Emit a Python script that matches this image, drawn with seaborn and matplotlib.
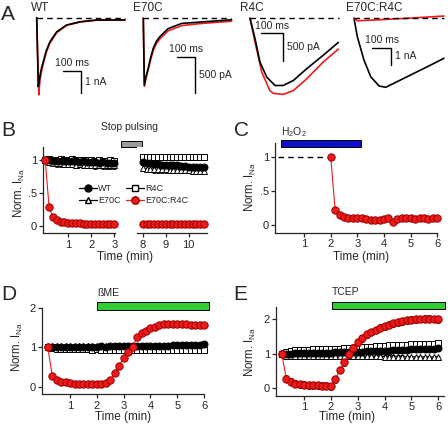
import numpy as np
import matplotlib.pyplot as plt
import seaborn as sns
from matplotlib.patches import Rectangle
from matplotlib.lines import Line2D

'''
    DATA
'''
# A - current traces (time in ms, current in nA)
wt_t_black = [0, 9, 15, 20, 28, 38, 55, 76, 115, 172, 249, 345, 507]
wt_black = [0, -3.04, -2.75, -2.5, -2.2, -1.94, -1.45, -1.06, -0.62, -0.32, -0.18, -0.10, -0.10]
wt_t_red = [0, 12, 15, 20, 28, 38, 55, 76, 115, 172, 249, 345, 507]
wt_red = [0, -3.40, -3.05, -2.7, -2.35, -2.02, -1.52, -1.12, -0.66, -0.34, -0.19, -0.11, -0.10]

e70_t = [0, 6, 15, 28, 40, 56, 75, 94, 141, 217, 330, 499]
e70_black = [0, -0.91, -0.80, -0.68, -0.55, -0.41, -0.31, -0.25, -0.14, -0.07, -0.05, -0.02]
e70_red = [0, -0.93, -0.82, -0.70, -0.58, -0.44, -0.34, -0.28, -0.17, -0.10, -0.07, -0.04]

r4_t_black = [0, 22, 44, 74, 111, 147, 192, 251, 324, 391]
r4_black = [0, -0.36, -0.78, -1.05, -1.20, -1.20, -1.11, -0.90, -0.66, -0.43]
r4_t_red = [0, 22, 52, 88, 103, 147, 192, 251, 324, 391]
r4_red = [0, -0.42, -0.96, -1.29, -1.34, -1.36, -1.29, -1.08, -0.78, -0.55]

dbl_t_black = [0, 18, 54, 91, 136, 172, 235, 326, 417, 489]
dbl_black = [0, -1.06, -2.41, -3.38, -3.91, -3.99, -3.66, -3.18, -2.70, -2.31]
dbl_t_red = [0, 18, 109, 288, 489]
dbl_red = [0, -0.14, -0.10, 0.0, 0.13]

# B - stop pulsing (10 s sweep interval)
b_t_left = np.arange(0, 19) / 6
b_t_right = 8 + np.arange(0, 17) / 6
b_wt_left = [1.0, 1.0, 0.99, 0.99, 0.98, 0.99, 0.98, 0.98, 0.98, 0.97, 0.98, 0.97, 0.97, 0.97, 0.96, 0.97, 0.96, 0.96, 0.96]
b_r4_left = [1.0, 1.01, 1.0, 1.0, 1.01, 1.0, 1.0, 1.01, 1.0, 1.0, 0.99, 1.0, 1.0, 0.99, 1.0, 0.99, 0.99, 1.0, 0.99]
b_e70_left = [1.0, 0.97, 0.96, 0.95, 0.95, 0.94, 0.94, 0.94, 0.93, 0.94, 0.93, 0.93, 0.93, 0.92, 0.93, 0.92, 0.92, 0.92, 0.92]
b_dbl_left = [1.0, 0.29, 0.14, 0.09, 0.07, 0.06, 0.05, 0.05, 0.05, 0.05, 0.04, 0.04, 0.04, 0.04, 0.04, 0.04, 0.04, 0.04, 0.04]
b_wt_right = [0.97, 0.96, 0.95, 0.94, 0.94, 0.93, 0.93, 0.92, 0.92, 0.92, 0.91, 0.91, 0.90, 0.90, 0.90, 0.89, 0.89]
b_r4_right = [1.05, 1.04, 1.05, 1.04, 1.04, 1.05, 1.04, 1.04, 1.05, 1.04, 1.05, 1.05, 1.04, 1.05, 1.05, 1.05, 1.05]
b_e70_right = [0.88, 0.87, 0.87, 0.86, 0.86, 0.86, 0.86, 0.85, 0.85, 0.85, 0.85, 0.85, 0.85, 0.84, 0.84, 0.84, 0.84]
b_dbl_right = [0.04] * 17
b_err_e70 = 0.05
b_err_r4 = 0.04

# C - H2O2
c_t = 2 + np.arange(0, 25) / 6
c_dbl = [1.0, 0.22, 0.15, 0.12, 0.10, 0.10, 0.10, 0.10, 0.09, 0.08, 0.08, 0.07, 0.09,
         0.10, 0.05, 0.09, 0.10, 0.10, 0.10, 0.09, 0.10, 0.11, 0.09, 0.10, 0.11]

# D / E - reducing agents
de_t = np.arange(1, 37) / 6
d_wt = [1.0, 1.0, 1.0, 1.0, 1.0, 1.0, 1.01, 1.0, 1.01, 1.01, 1.01, 1.01, 1.02, 1.01, 1.02, 1.02, 1.02, 1.02,
        1.03, 1.02, 1.03, 1.03, 1.03, 1.03, 1.04, 1.04, 1.04, 1.04, 1.05, 1.05, 1.05, 1.05, 1.06, 1.06, 1.06, 1.07]
d_r4 = [1.0, 0.97, 0.96, 0.96, 0.95, 0.95, 0.95, 0.95, 0.95, 0.95, 0.94, 0.95, 0.94, 0.94, 0.94, 0.94, 0.94, 0.94,
        0.94, 0.93, 0.94, 0.93, 0.93, 0.93, 0.93, 0.93, 0.93, 0.93, 0.92, 0.93, 0.92, 0.92, 0.92, 0.92, 0.92, 0.92]
d_e70 = [1.0, 1.02, 1.02, 1.03, 1.02, 1.03, 1.02, 1.03, 1.03, 1.02, 1.03, 1.03, 1.02, 1.03, 1.03, 1.02, 1.03, 1.02,
         1.03, 1.03, 1.02, 1.03, 1.02, 1.02, 1.03, 1.02, 1.02, 1.02, 1.01, 1.02, 1.01, 1.01, 1.01, 1.01, 1.0, 1.0]
d_dbl = [1.0, 0.28, 0.18, 0.13, 0.11, 0.09, 0.08, 0.08, 0.07, 0.07, 0.07, 0.06, 0.07, 0.10, 0.18, 0.34, 0.53, 0.74,
         0.87, 1.0, 1.25, 1.35, 1.42, 1.48, 1.52, 1.56, 1.58, 1.59, 1.59, 1.59, 1.58, 1.58, 1.57, 1.56, 1.55, 1.55]
e_wt = [1.0, 1.0, 1.0, 1.01, 1.01, 1.01, 1.02, 1.02, 1.02, 1.03, 1.03, 1.03, 1.04, 1.04, 1.04, 1.05, 1.05, 1.06,
        1.06, 1.07, 1.07, 1.08, 1.08, 1.09, 1.09, 1.10, 1.10, 1.11, 1.11, 1.12, 1.12, 1.13, 1.13, 1.14, 1.14, 1.15]
e_r4 = [1.0, 1.05, 1.08, 1.1, 1.1, 1.11, 1.11, 1.12, 1.12, 1.12, 1.13, 1.13, 1.14, 1.14, 1.15, 1.15, 1.16, 1.17,
        1.18, 1.19, 1.2, 1.21, 1.22, 1.23, 1.24, 1.24, 1.25, 1.26, 1.26, 1.27, 1.27, 1.28, 1.28, 1.29, 1.29, 1.3]
e_e70 = [1.0, 0.93, 0.93, 0.94, 0.94, 0.94, 0.94, 0.94, 0.94, 0.94, 0.94, 0.94, 0.93, 0.93, 0.93, 0.93, 0.93, 0.93,
         0.92, 0.92, 0.92, 0.92, 0.92, 0.91, 0.91, 0.91, 0.91, 0.91, 0.9, 0.9, 0.9, 0.9, 0.9, 0.89, 0.89, 0.89]
e_dbl = [1.0, 0.27, 0.18, 0.12, 0.10, 0.09, 0.08, 0.07, 0.07, 0.06, 0.06, 0.05, 0.25, 0.52, 0.75, 0.98, 1.17, 1.33,
         1.45, 1.56, 1.63, 1.69, 1.76, 1.80, 1.84, 1.88, 1.92, 1.95, 1.97, 1.99, 2.0, 2.01, 2.02, 2.02, 2.01, 2.0]
e_err_e70 = 0.04
e_err_r4 = 0.06
e_err_dbl = 0.1

'''
    STYLE
'''
sns.set_theme(style='ticks')
plt.rcParams['font.family'] = ['Liberation Sans', 'DejaVu Sans']
plt.rcParams['mathtext.default'] = 'regular'
plt.rcParams['axes.linewidth'] = 0.9
plt.rcParams['xtick.major.width'] = 0.9
plt.rcParams['ytick.major.width'] = 0.9
plt.rcParams['xtick.major.size'] = 3
plt.rcParams['ytick.major.size'] = 3
plt.rcParams['xtick.major.pad'] = 1.5
plt.rcParams['ytick.major.pad'] = 1.2
plt.rcParams['xtick.labelsize'] = 8
plt.rcParams['ytick.labelsize'] = 8

RED = '#ee1a1a'
RED_EDGE = '#9a0000'
W, H = 448, 430

fig = plt.figure(figsize=(W / 100, H / 100), dpi=100)


def px_axes(x0, y0, x1, y1):
    return fig.add_axes([x0 / W, 1 - y1 / H, (x1 - x0) / W, (y1 - y0) / H])


def ftext(x, y, s, **kw):
    fig.text(x / W, 1 - y / H, s, **kw)


'''
    PANEL A
'''
def trace_panel(rect, ox, oy, px_ms, px_na, traces, t_end, bar_t, bar_i, bar_na, unit):
    x0, y0, x1, y1 = rect
    ax = px_axes(*rect)
    ax.set_xlim((x0 - ox) / px_ms, (x1 - ox) / px_ms)
    ax.set_ylim((oy - y1) / px_na, (oy - y0) / px_na)
    ax.axis('off')
    for t, i, col in traces:
        sns.lineplot(x=t, y=i, ax=ax, color=col, lw=1.2, sort=False, estimator=None)
    ax.plot([0, t_end], [0, 0], color='black', lw=1, dashes=(4, 3))
    ax.plot([bar_t, bar_t + 100, bar_t + 100], [bar_i, bar_i, bar_i - bar_na], color='black', lw=1)
    ax.annotate('100 ms', (bar_t + 50, bar_i), xytext=(0, 2), textcoords='offset points',
                ha='center', va='bottom', fontsize=7.5)
    ax.annotate(unit, (bar_t + 100, bar_i - bar_na / 2), xytext=(3, 0), textcoords='offset points',
                ha='left', va='center', fontsize=7.5)
    for l in ax.lines:
        l.set_clip_on(False)


trace_panel((30, 5, 135, 105), 36.7, 17.7, 0.174, 22.7,
            [(wt_t_red, wt_red, RED), (wt_t_black, wt_black, 'black')], 507, 153, -2.33, 1.0, '1 nA')
trace_panel((136, 5, 240, 105), 143.3, 18.3, 0.177, 73.2,
            [(e70_t, e70_red, RED), (e70_t, e70_black, 'black')], 495, 192, -0.525, 0.5, '500 pA')
trace_panel((241, 5, 345, 105), 250, 18.3, 0.226, 56,
            [(r4_t_red, r4_red, RED), (r4_t_black, r4_black, 'black')], 394, 47, -0.27, 0.5, '500 pA')
trace_panel((346, 5, 448, 105), 354, 18.3, 0.184, 17.3,
            [(dbl_t_black, dbl_black, 'black'), (dbl_t_red, dbl_red, RED)], 489, 100, -1.70, 1.0, '1 nA')

ftext(31, 8, 'WT', fontsize=8.5, va='center')
ftext(133, 8, 'E70C', fontsize=8.5, va='center')
ftext(240, 8, 'R4C', fontsize=8.5, va='center')
ftext(346, 8, 'E70C:R4C', fontsize=8.5, va='center')

'''
    PANELS B-E
'''
def series(ax, t, v, kind, err=None):
    styles = {
        'wt': dict(marker='o', face='black', edge='black', line='black', ms=5.0, z=4),
        'r4': dict(marker='s', face='white', edge='black', line='black', ms=4.7, z=3),
        'e70': dict(marker='^', face='white', edge='black', line='black', ms=5.0, z=2),
        'dbl': dict(marker='o', face=RED, edge=RED_EDGE, line=RED, ms=5.3, z=6),
    }
    s = styles[kind]
    if err is not None:
        ax.errorbar(t, v, yerr=err, fmt='none', ecolor=s['edge'], elinewidth=0.6,
                    capsize=1.5, capthick=0.6, zorder=s['z'] - 0.5, clip_on=False)
    sns.lineplot(x=t, y=v, ax=ax, color=s['line'], lw=0.8, marker=s['marker'], markersize=s['ms'],
                 markerfacecolor=s['face'], markeredgecolor=s['edge'], markeredgewidth=0.7,
                 sort=False, estimator=None, zorder=s['z'])


def style_axes(ax, xlim, ylim, xticks, yticks, ylabels=None):
    ax.set_xlim(*xlim)
    ax.set_ylim(*ylim)
    ax.set_xticks(xticks)
    ax.set_yticks(yticks)
    if ylabels is not None:
        ax.set_yticklabels(ylabels)
    ax.spines['top'].set_visible(False)
    ax.spines['right'].set_visible(False)
    ax.set_xlabel('')
    ax.set_ylabel('')
    for l in ax.lines:
        l.set_clip_on(False)


# B
axb1 = px_axes(42.7, 146.7, 115, 233.3)
axb2 = px_axes(136.7, 146.7, 206.7, 233.3)
series(axb1, b_t_left, b_e70_left, 'e70', b_err_e70)
series(axb1, b_t_left, b_r4_left, 'r4', b_err_r4)
series(axb1, b_t_left, b_wt_left, 'wt')
series(axb1, b_t_left, b_dbl_left, 'dbl')
series(axb2, b_t_right, b_e70_right, 'e70', b_err_e70)
series(axb2, b_t_right, b_r4_right, 'r4', b_err_r4)
series(axb2, b_t_right, b_wt_right, 'wt')
series(axb2, b_t_right, b_dbl_right, 'dbl')
style_axes(axb1, (-0.11, 3.03), (-0.106, 1.2), [1, 2, 3], [0, 0.5, 1], ['0', '.5', '1'])
style_axes(axb2, (7.74, 10.78), (-0.106, 1.2), [8, 9, 10], [])
axb2.spines['left'].set_visible(False)
axb2.tick_params(axis='y', left=False)
axb1.add_patch(Rectangle((3.28, 1.2), 0.91, 0.09, fc='#9a9a9a', ec='black', lw=0.7, clip_on=False))
axb1.text(3.68, 1.5, 'Stop pulsing', ha='center', va='center', fontsize=7.5)

handles = [
    Line2D([], [], color='black', lw=0.9, marker='o', ms=5.0, mfc='black', mec='black'),
    Line2D([], [], color='black', lw=0.9, marker='^', ms=5.0, mfc='white', mec='black'),
    Line2D([], [], color='black', lw=0.9, marker='s', ms=4.7, mfc='white', mec='black'),
    Line2D([], [], color=RED, lw=0.9, marker='o', ms=5.3, mfc=RED, mec=RED_EDGE),
]
fig.legend(handles, ['WT', 'E70C', 'R4C', 'E70C:R4C'], ncol=2, loc='upper left',
           bbox_to_anchor=(79 / W, 1 - 184 / H), frameon=False, fontsize=6.5,
           handlelength=2.0, handletextpad=0.1, columnspacing=0.6, labelspacing=0.35,
           borderpad=0, borderaxespad=0)

# C
axc = px_axes(275, 142.7, 437.3, 232.7)
series(axc, c_t, c_dbl, 'dbl')
axc.plot([0.03, 1.78], [1, 1], color='black', lw=1, dashes=(4, 3))
style_axes(axc, (-0.09, 6.0), (-0.113, 1.21), [1, 2, 3, 4, 5, 6], [0, 0.5, 1], ['0', '.5', '1'])
axc.add_patch(Rectangle((0.13, 1.14), 2.99, 0.11, fc='#0a10d0', ec='black', lw=0.7, clip_on=False))
axc.text(0.13, 1.37, 'H$_2$O$_2$', ha='left', va='center', fontsize=7.5)

# D
axd = px_axes(41.7, 307.7, 204, 394.3)
series(axd, de_t, d_e70, 'e70')
series(axd, de_t, d_r4, 'r4')
series(axd, de_t, d_wt, 'wt')
series(axd, de_t, d_dbl, 'dbl')
style_axes(axd, (-0.06, 6.0), (-0.19, 2.0), [1, 2, 3, 4, 5, 6], [0, 1, 2])
axd.add_patch(Rectangle((2.0, 1.94), 4.17, 0.2, fc='#30cc30', ec='black', lw=0.7, clip_on=False))
axd.text(2.0, 2.36, 'ßME', ha='left', va='center', fontsize=7.5)

# E
axe = px_axes(275.7, 306.7, 444, 395.7)
series(axe, de_t, e_e70, 'e70', e_err_e70)
series(axe, de_t, e_r4, 'r4', e_err_r4)
series(axe, de_t, e_wt, 'wt')
series(axe, de_t, e_dbl, 'dbl', e_err_dbl)
style_axes(axe, (-0.06, 6.22), (-0.23, 2.37), [1, 2, 3, 4, 5, 6], [0, 1, 2])
axe.add_patch(Rectangle((2.03, 2.29), 4.22, 0.21, fc='#30cc30', ec='black', lw=0.7, clip_on=False))
axe.text(2.05, 2.81, 'TCEP', ha='left', va='center', fontsize=7.5)

# axis labels
ylab = 'Norm. I$_{Na}$'
for x, y in [(19.5, 193), (250.5, 186.7), (17, 347), (250.5, 352)]:
    ftext(x, y, ylab, rotation=90, ha='center', va='center', fontsize=8.3)
for x, y in [(125, 256.7), (360.7, 256.7), (123.3, 416.7), (347.3, 416.7)]:
    ftext(x, y, 'Time (min)', ha='center', va='center', fontsize=8.5)

# panel letters
for x, y, s in [(1, 14, 'A'), (1, 131, 'B'), (234, 131, 'C'), (1, 295, 'D'), (233, 295, 'E')]:
    ftext(x, y, s, fontsize=15, va='center', ha='left')

fig.savefig('out.png', dpi=100)
